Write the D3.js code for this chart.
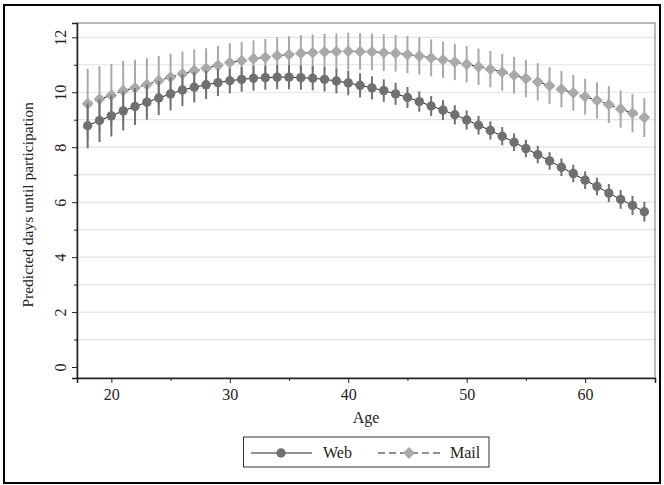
<!DOCTYPE html>
<html>
<head>
<meta charset="utf-8">
<script src="https://cdn.jsdelivr.net/npm/d3@7"></script>
<style>
  body { margin: 0; background: #fff; }
  svg { display: block; font-family: "Liberation Serif", "Times New Roman", serif; }
</style>
</head>
<body>
<svg id="chart" width="664" height="485"></svg>
<script>
// Predicted days until participation by age, for two survey modes
var ages = d3.range(18, 66);
var webPred = [8.78, 8.97, 9.14, 9.32, 9.48, 9.64, 9.79, 9.94, 10.08, 10.18,
  10.27, 10.35, 10.42, 10.47, 10.51, 10.53, 10.55, 10.55, 10.53, 10.51,
  10.47, 10.41, 10.34, 10.25, 10.16, 10.06, 9.94, 9.81, 9.66, 9.50,
  9.35, 9.18, 8.99, 8.80, 8.61, 8.40, 8.18, 7.95, 7.73, 7.50,
  7.27, 7.04, 6.80, 6.57, 6.33, 6.10, 5.88, 5.65];
var webCI = [0.82, 0.78, 0.75, 0.71, 0.67, 0.64, 0.62, 0.6, 0.58, 0.55,
  0.52, 0.49, 0.46, 0.45, 0.45, 0.44, 0.44, 0.44, 0.44, 0.44,
  0.44, 0.45, 0.45, 0.44, 0.42, 0.41, 0.4, 0.38, 0.37, 0.36,
  0.36, 0.35, 0.35, 0.34, 0.33, 0.33, 0.32, 0.32, 0.32, 0.32,
  0.32, 0.32, 0.32, 0.32, 0.33, 0.34, 0.35, 0.36];
var mailPred = [9.58, 9.75, 9.89, 10.06, 10.16, 10.28, 10.42, 10.55, 10.67, 10.79,
  10.87, 10.98, 11.08, 11.15, 11.22, 11.27, 11.33, 11.37, 11.42, 11.44,
  11.47, 11.48, 11.49, 11.48, 11.47, 11.44, 11.42, 11.37, 11.32, 11.25,
  11.18, 11.10, 11.02, 10.93, 10.84, 10.73, 10.62, 10.50, 10.38, 10.24,
  10.11, 9.98, 9.84, 9.70, 9.55, 9.39, 9.24, 9.08];
var mailCI = [1.27, 1.2, 1.14, 1.08, 1.02, 0.96, 0.9, 0.85, 0.81, 0.77,
  0.73, 0.71, 0.7, 0.68, 0.67, 0.67, 0.67, 0.67, 0.66, 0.66,
  0.66, 0.66, 0.67, 0.67, 0.67, 0.67, 0.67, 0.68, 0.68, 0.67,
  0.66, 0.66, 0.66, 0.66, 0.66, 0.67, 0.67, 0.68, 0.68, 0.67,
  0.66, 0.65, 0.65, 0.66, 0.67, 0.68, 0.7, 0.71];
var xTicks = [20, 30, 40, 50, 60];
var yTicks = [0, 2, 4, 6, 8, 10, 12];
var seriesNames = ["Web", "Mail"];

var svg = d3.select("#chart");
var margin = { top: 23, right: 9, bottom: 107, left: 77 };
var width = 664 - margin.left - margin.right;
var height = 485 - margin.top - margin.bottom;
var font = "Liberation Serif";

// outer border
svg.append("rect")
  .attr("x", 4).attr("y", 5).attr("width", 656).attr("height", 478)
  .attr("fill", "none").attr("stroke", "#000").attr("stroke-width", 2);

var g = svg.append("g").attr("transform", "translate(" + margin.left + "," + margin.top + ")");

var x = d3.scaleLinear().domain([17.1, 65.9]).range([0, width]);
var y = d3.scaleLinear().domain([-0.4, 12.52]).range([height, 0]);

// gridlines at every whole day
g.append("g").selectAll("line")
  .data(d3.range(1, 13))
  .enter().append("line")
  .attr("x1", 0).attr("x2", width)
  .attr("y1", function (d) { return y(d); })
  .attr("y2", function (d) { return y(d); })
  .attr("stroke", "#e3e3e3").attr("stroke-width", 1.2);

// frame
g.append("rect")
  .attr("width", width).attr("height", height)
  .attr("fill", "none").attr("stroke", "#777").attr("stroke-width", 1);

// axes
var yAxis = g.append("g")
  .call(d3.axisLeft(y).tickValues(yTicks).tickSize(5).tickFormat(d3.format("d")));
g.append("g")
  .call(d3.axisLeft(y).tickValues(d3.range(1, 13, 2)).tickSize(3).tickFormat(""))
  .select(".domain").remove();
yAxis.selectAll("text")
  .attr("transform", "rotate(-90)")
  .attr("x", 0).attr("y", -16).attr("dy", "0.32em")
  .style("text-anchor", "middle");

var xAxis = g.append("g")
  .attr("transform", "translate(0," + height + ")")
  .call(d3.axisBottom(x).tickValues(xTicks).tickSize(5));
g.append("g")
  .attr("transform", "translate(0," + height + ")")
  .call(d3.axisBottom(x).tickValues([25, 35, 45, 55]).tickSize(3).tickFormat(""))
  .select(".domain").remove();
xAxis.selectAll("text").attr("y", 11);

g.selectAll(".domain").attr("stroke", "#222").attr("stroke-width", 1.5);
g.selectAll(".tick line").attr("stroke", "#222");
g.selectAll(".tick text").attr("font-size", 16).attr("font-family", font).attr("fill", "#222");

// axis titles
g.append("text")
  .attr("x", width / 2).attr("y", height + 45)
  .attr("text-anchor", "middle").attr("font-size", 16).attr("font-family", font).attr("fill", "#222")
  .text("Age");
g.append("text")
  .attr("transform", "rotate(-90)")
  .attr("x", -y(5.9)).attr("y", -44)
  .attr("text-anchor", "middle").attr("font-size", 15.5).attr("font-family", font).attr("fill", "#222")
  .text("Predicted days until participation");

var webColor = "#707070";
var mailColor = "#a9a9a9";
var diamond = d3.symbol().type(d3.symbolSquare).size(70);

function drawSeries(pred, ci, color, dash, isDiamond) {
  var pts = ages.map(function (a, i) { return { x: a, y: pred[i], ci: ci[i] }; });
  g.append("g").selectAll("line")
    .data(pts).enter().append("line")
    .attr("x1", function (d) { return x(d.x); })
    .attr("x2", function (d) { return x(d.x); })
    .attr("y1", function (d) { return y(d.y - d.ci); })
    .attr("y2", function (d) { return y(d.y + d.ci); })
    .attr("stroke", color).attr("stroke-width", 2);
  var line = d3.line().x(function (d) { return x(d.x); }).y(function (d) { return y(d.y); });
  g.append("path").datum(pts)
    .attr("d", line).attr("fill", "none")
    .attr("stroke", "#222").attr("stroke-width", 1)
    .attr("stroke-dasharray", dash);
  var m = g.append("g").selectAll(".m").data(pts).enter();
  if (isDiamond) {
    m.append("path")
      .attr("d", diamond)
      .attr("transform", function (d) { return "translate(" + x(d.x) + "," + y(d.y) + ") rotate(45)"; })
      .attr("fill", color);
  } else {
    m.append("circle")
      .attr("cx", function (d) { return x(d.x); })
      .attr("cy", function (d) { return y(d.y); })
      .attr("r", 4.7).attr("fill", color);
  }
}

drawSeries(mailPred, mailCI, mailColor, "5,3", true);
drawSeries(webPred, webCI, webColor, null, false);

// legend
var lg = svg.append("g");
lg.append("rect")
  .attr("x", 243.5).attr("y", 437).attr("width", 245.5).attr("height", 30)
  .attr("fill", "#fff").attr("stroke", "#333").attr("stroke-width", 1);
var ly = 453;
lg.append("line").attr("x1", 251).attr("x2", 312).attr("y1", ly).attr("y2", ly)
  .attr("stroke", "#222").attr("stroke-width", 1);
lg.append("circle").attr("cx", 281).attr("cy", ly).attr("r", 4.7).attr("fill", webColor);
lg.append("text").attr("x", 323).attr("y", ly + 5).attr("font-size", 16).attr("font-family", font).attr("fill", "#222").text(seriesNames[0]);
lg.append("line").attr("x1", 378).attr("x2", 443).attr("y1", ly).attr("y2", ly)
  .attr("stroke", "#222").attr("stroke-width", 1).attr("stroke-dasharray", "7,4");
lg.append("path").attr("d", diamond).attr("transform", "translate(409," + ly + ") rotate(45)").attr("fill", mailColor);
lg.append("text").attr("x", 450).attr("y", ly + 5).attr("font-size", 16).attr("font-family", font).attr("fill", "#222").text(seriesNames[1]);
</script>
</body>
</html>
